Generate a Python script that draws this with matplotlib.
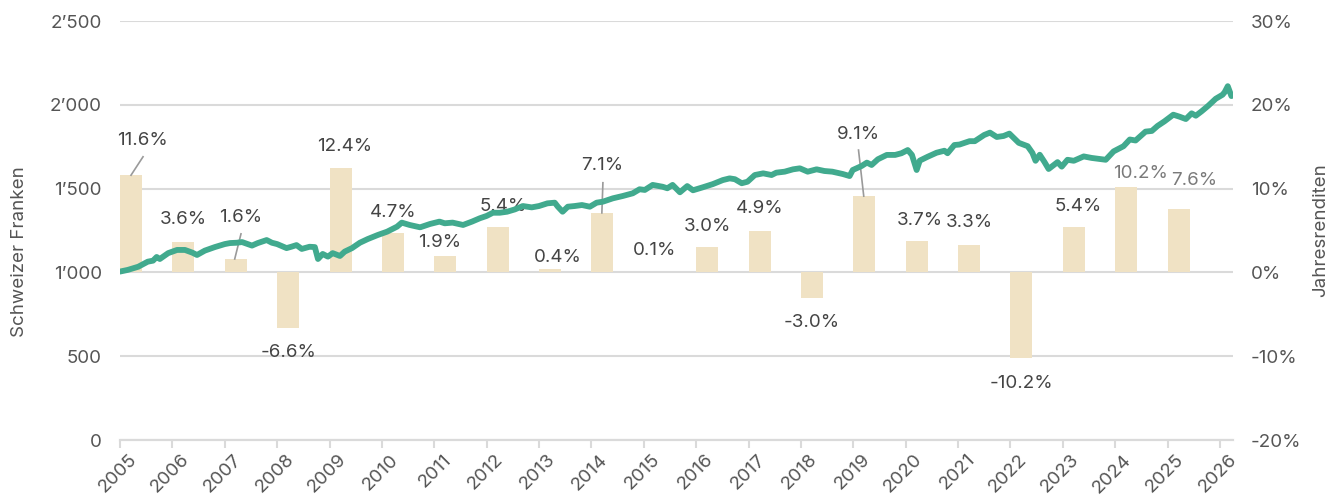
import matplotlib
matplotlib.use("Agg")
import matplotlib.pyplot as plt
from matplotlib.ticker import FuncFormatter, MultipleLocator
import matplotlib.transforms as mtransforms

plt.rcParams['font.family'] = ['Inter', 'DejaVu Sans']

# ---- data ----
years = list(range(2005, 2026))
returns = [11.6, 3.6, 1.6, -6.6, 12.4, 4.7, 1.9, 5.4, 0.4, 7.1, 0.1,
           3.0, 4.9, -3.0, 9.1, 3.7, 3.3, -10.2, 5.4, 10.2, 7.6]

line_t = [2005.00, 2005.15, 2005.35, 2005.53, 2005.63, 2005.70, 2005.76, 2005.92,
          2006.09, 2006.24, 2006.38, 2006.47, 2006.62, 2006.81,
          2007.00, 2007.10, 2007.23, 2007.33, 2007.44, 2007.52, 2007.63, 2007.80, 2007.90,
          2008.00, 2008.18, 2008.27, 2008.37, 2008.47, 2008.62, 2008.72, 2008.78, 2008.87, 2008.97,
          2009.06, 2009.20, 2009.29, 2009.43, 2009.58, 2009.73, 2009.92,
          2010.10, 2010.29, 2010.38, 2010.53, 2010.73, 2010.92,
          2011.10, 2011.20, 2011.35, 2011.55, 2011.72, 2011.87,
          2012.00, 2012.12, 2012.25, 2012.39, 2012.54, 2012.69, 2012.86,
          2013.00, 2013.16, 2013.30, 2013.36, 2013.45, 2013.55, 2013.68, 2013.82, 2013.97,
          2014.10, 2014.22, 2014.41, 2014.60, 2014.79, 2014.92,
          2015.02, 2015.17, 2015.36, 2015.45, 2015.55, 2015.69, 2015.83, 2015.94,
          2016.13, 2016.32, 2016.51, 2016.64, 2016.74, 2016.87, 2016.98,
          2017.12, 2017.28, 2017.44, 2017.53, 2017.69, 2017.85, 2017.98,
          2018.13, 2018.30, 2018.45, 2018.60, 2018.80, 2018.93, 2018.99,
          2019.16, 2019.26, 2019.35, 2019.47, 2019.64, 2019.80, 2019.92,
          2020.04, 2020.12, 2020.21, 2020.27, 2020.42, 2020.59, 2020.74, 2020.80, 2020.93,
          2021.03, 2021.22, 2021.32, 2021.50, 2021.61, 2021.74, 2021.87, 2021.98,
          2022.16, 2022.33, 2022.42, 2022.48, 2022.56, 2022.65, 2022.73, 2022.90, 2022.98,
          2023.09, 2023.21, 2023.40, 2023.55, 2023.82, 2023.97,
          2024.16, 2024.28, 2024.39, 2024.58, 2024.70, 2024.81, 2024.94,
          2025.11, 2025.23, 2025.35, 2025.46, 2025.54, 2025.65, 2025.78, 2025.92,
          2026.05, 2026.09, 2026.15, 2026.22]
line_v = [1005, 1015, 1034, 1064, 1070, 1092, 1080, 1115,
          1134, 1134, 1118, 1104, 1130, 1151,
          1169, 1175, 1177, 1181, 1169, 1160, 1175, 1193, 1177,
          1169, 1145, 1153, 1163, 1140, 1153, 1151, 1080, 1110, 1094,
          1115, 1098, 1124, 1145, 1177, 1199, 1223,
          1243, 1273, 1297, 1283, 1269, 1289,
          1303, 1293, 1297, 1283, 1303, 1323,
          1337, 1356, 1356, 1362, 1376, 1396, 1388,
          1396, 1412, 1416, 1392, 1362, 1392, 1396, 1402, 1392,
          1416, 1422, 1442, 1456, 1472, 1496,
          1492, 1522, 1511, 1502, 1522, 1478, 1515, 1490,
          1508, 1527, 1551, 1561, 1556, 1532, 1541,
          1581, 1591, 1581, 1595, 1601, 1615, 1621,
          1601, 1615, 1605, 1601, 1587, 1575, 1611,
          1635, 1655, 1641, 1675, 1701, 1701, 1711,
          1730, 1701, 1611, 1667, 1690, 1714, 1726, 1711, 1760,
          1763, 1783, 1783, 1820, 1834, 1808, 1814, 1828,
          1773, 1753, 1713, 1666, 1702, 1659, 1617, 1658, 1631,
          1672, 1666, 1692, 1683, 1672, 1722,
          1753, 1793, 1787, 1840, 1844, 1874, 1901,
          1941, 1929, 1915, 1949, 1935, 1961, 1995, 2036,
          2060, 2075, 2111, 2052]

# label placement (layout): x shift in years, y position in %
label_dx = {2005: 0.21, 2007: 0.1, 2009: 0.08, 2011: -0.1, 2012: 0.1, 2013: 0.15,
            2019: -0.11, 2020: 0.06, 2023: 0.08, 2024: 0.28, 2025: 0.3}
label_y = [15.7, 6.3, 6.55, -9.5, 15.0, 7.1, 3.6, 7.9, 1.8, 12.7, 2.6,
           5.5, 7.6, -6.0, 16.5, 6.2, 6.0, -13.2, 7.9, 11.8, 11.0]
# leader lines: (x at bar, x at top, y at top)
leaders = {2005: (2005.21, 2005.44, 13.8), 2007: (2007.19, 2007.31, 4.6),
           2014: (2014.20, 2014.22, 10.7), 2019: (2019.20, 2019.10, 14.6)}
light_years = [2024, 2025]

TEAL = '#41aa8e'
BEIGE = '#f0e2c4'
TXT = '#444444'
TICK = '#555555'
GRID = '#dadada'
FS = 13.5

fig = plt.figure(figsize=(13.34, 4.98), dpi=100)
ax = fig.add_axes([120 / 1334, 1 - 440 / 498, (1233 - 120) / 1334, (440 - 21) / 498])
ax2 = ax.twinx()

bar_w = 0.42
ax.bar(years, returns, width=bar_w, align='edge', color=BEIGE, zorder=2)
ax.set_ylim(-20, 30)
ax.set_xlim(2005, 2026.25)
ax.yaxis.set_major_locator(MultipleLocator(10))
ax.yaxis.set_major_formatter(FuncFormatter(lambda v, p: f"{v:.0f}%"))
ax.grid(axis='y', color=GRID, lw=1.5, zorder=0)
ax.set_axisbelow(True)

for i, (yr, r) in enumerate(zip(years, returns)):
    cx = yr + bar_w / 2
    tx = cx + label_dx.get(yr, 0)
    col = '#7a7a7a' if yr in light_years else TXT
    ax.text(tx, label_y[i], f"{r:.1f}%", ha='center', va='center',
            fontsize=FS, color=col, zorder=5)
    if yr in leaders:
        x0, x1, y1 = leaders[yr]
        ax.plot([x0, x1], [r, y1], color='#9a9a9a', lw=1.2, zorder=3)

ax2.plot(line_t, line_v, color=TEAL, lw=4.2, solid_joinstyle='round',
         solid_capstyle='round', zorder=4)
ax2.set_ylim(0, 2500)
ax2.yaxis.set_major_locator(MultipleLocator(500))
ax2.yaxis.set_major_formatter(FuncFormatter(lambda v, p: f"{int(v):,}".replace(",", "\u2019")))

# put percent axis on the right, francs on the left
ax.yaxis.tick_right()
ax.yaxis.set_label_position('right')
ax2.yaxis.tick_left()
ax2.yaxis.set_label_position('left')

for a in (ax, ax2):
    for s in ('top', 'left', 'right'):
        a.spines[s].set_visible(False)
    a.spines['bottom'].set_color(GRID)
    a.spines['bottom'].set_linewidth(1.5)
    a.tick_params(axis='y', length=0, pad=13, labelsize=FS, labelcolor=TICK)

ax.set_xticks(range(2005, 2027))
ax.tick_params(axis='x', length=6, width=1.5, color=GRID, labelsize=FS,
               labelcolor=TICK, pad=2)
for lbl in ax.get_xticklabels():
    lbl.set_rotation(45)
    lbl.set_ha('right')
    lbl.set_va('top')
    lbl.set_rotation_mode('anchor')
    lbl.set_transform(lbl.get_transform() +
                      mtransforms.ScaledTranslation(8 / 100, 0, fig.dpi_scale_trans))

ax2.set_ylabel('Schweizer Franken', fontsize=FS, color=TICK)
ax2.yaxis.set_label_coords(-0.083, 0.45)
ax.set_ylabel('Jahresrenditen', fontsize=FS, color=TICK, rotation=90)
ax.yaxis.set_label_coords(1.071, 0.5)

fig.savefig('out.png', dpi=100)
